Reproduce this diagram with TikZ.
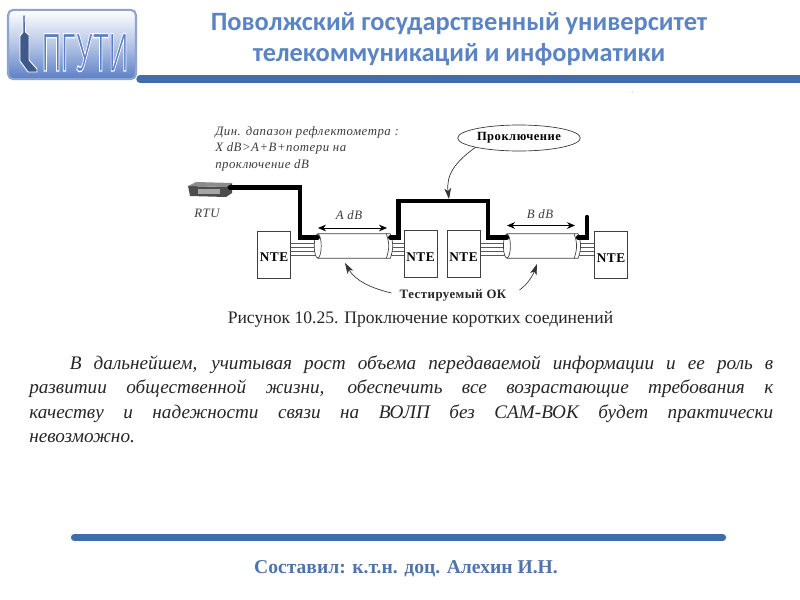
\documentclass[tikz,border=0pt]{standalone}
\usepackage{fontspec}
\usetikzlibrary{arrows.meta,calc,shapes.geometric}
\setmainfont{Liberation Serif}
\newfontfamily\titlefont{Carlito}
\newfontfamily\logofont{Liberation Sans}
\newfontfamily\schemefont[LetterSpace=4]{Liberation Serif}
\definecolor{titleblue}{HTML}{5B84C4}
\definecolor{footblue}{HTML}{4F75A8}
\definecolor{barblue}{HTML}{3F6EA9}
\definecolor{logoblue}{HTML}{5B7FC6}
\definecolor{logoedge}{HTML}{8FA3CC}
\definecolor{graytext}{HTML}{3C3C3C}
\tikzset{
  ntebox/.style={draw=black!75,line width=0.5pt,minimum width=25pt,minimum height=35.5pt,inner sep=0pt,font=\schemefont\fontsize{10}{12}\selectfont\bfseries},
  wire/.style={draw=black!65,line width=0.55pt},
  thickline/.style={draw=black,line width=3.3pt,line join=miter,line cap=round},
  cableline/.style={draw=black!75,line width=0.5pt},
  dimarrow/.style={draw=black,line width=0.55pt,{Stealth[length=6pt,width=5pt]}-{Stealth[length=6pt,width=5pt]}},
  callout/.style={draw=black!80,line width=0.5pt,-{Stealth[length=8pt,width=5pt,inset=2pt]}},
  schemetext/.style={font=\schemefont\fontsize{9.6}{12.4}\selectfont\itshape,text=graytext,inner sep=0pt},
  titletext/.style={font=\titlefont\fontsize{19.8}{24}\selectfont\bfseries,text=titleblue,inner sep=0pt},
  bar/.style={line width=4.6pt,line cap=round,draw=barblue},
}
\newcommand{\ntelabel}{\raisebox{-3pt}[5pt][0pt]{NTE}}
\begin{document}
\begin{tikzpicture}[x=0.75pt,y=-0.75pt]
\useasboundingbox (0,0) rectangle (800,600);
\fill[white] (0,0) rectangle (800,600);

% logo
\node[draw=logoedge,line width=1.6pt,rounded corners=4pt,minimum width=96pt,minimum height=52pt,inner sep=0pt,
  top color=white,bottom color=logoblue,middle color=logoblue!45] (logo) at (72,44.5) {};
\fill[logoblue!70!black,draw=white,line width=0.7pt] (23,15)--(25,15)--(25.5,32)--(29,35)--(29,60)--(37,69)--(37,72)--(28,72)--(20,61)--(20,36)--(23,32)--cycle;
\node[inner sep=0pt,text=logoblue,xscale=0.49] (logotext) at (85,52.5)
  {\logofont\fontsize{41}{41}\selectfont\special{pdf:code 2 Tr 1.0 w 1 1 1 RG}ПГУТИ\special{pdf:code 0 Tr}};

% header and footer bars
\coordinate (hbarA) at (140,79);
\coordinate (hbarB) at (805,79);
\coordinate (fbarA) at (74,537.5);
\coordinate (fbarB) at (723,537.5);
\draw[bar,line width=5.6pt] (hbarA) -- (hbarB);
\draw[bar] (fbarA) -- (fbarB);

% titles
\node[titletext] (t1) at (459,23.5) {Поволжский государственный университет};
\node[titletext] (t2) at (459,55) {телекоммуникаций и информатики};
\node[inner sep=0pt,text=footblue,font=\fontsize{14.7}{16}\selectfont\bfseries] (foot) at (406,569) {Составил: к.т.н. доц. Алехин И.Н.};
\fill[black!55] (632,92) circle (0.5);

% scheme nodes
\node[ntebox] (nte1) at (274,254.5) {\ntelabel};
\node[ntebox] (nte2) at (420.5,254) {\ntelabel};
\node[ntebox] (nte3) at (463.5,254) {\ntelabel};
\node[ntebox] (nte4) at (611,255) {\ntelabel};
\node[minimum width=54pt,minimum height=18pt,inner sep=0pt] (cabA) at (354,246) {};
\node[minimum width=53pt,minimum height=18pt,inner sep=0pt] (cabB) at (542.5,246) {};
\coordinate (w1) at (0,243);
\coordinate (w2) at (0,247);
\coordinate (w3) at (0,251);
\coordinate (w4) at (0,255.5);

% wires
\foreach \w in {w1,w2,w3,w4}{
  \draw[wire] (nte1.east |- \w) -- (cabA.west |- \w);
  \draw[wire] (cabA.east |- \w) -- (nte2.west |- \w);
  \draw[wire] (nte3.east |- \w) -- (cabB.west |- \w);
  \draw[wire] (cabB.east |- \w) -- (nte4.west |- \w);
}
% cables
\foreach \c in {cabA,cabB}{
  \draw[cableline,fill=white] (\c.north west) -- (\c.north east) to[out=-70,in=70] (\c.south east) -- (\c.south west) -- cycle;
  \draw[cableline,fill=white] (\c.west) ellipse (3.5 and 12);
  \draw[cableline] ([xshift=-3pt]\c.north east) to[out=-70,in=70] ([xshift=-3pt]\c.south east);
}

% RTU
\fill[black!70] (188,186)--(226,187)--(232,183)--(232,193)--(226,197)--(190,196)--cycle;
\fill[black!45] (188,186)--(196,182)--(232,183)--(226,187)--cycle;
\fill[black!35] (198,189) rectangle (220,194);
\coordinate (rtu) at (230,187.5);
\node[schemetext] (rtulab) at (207,213) {RTU};

% thick routes
\coordinate (r1a) at (300,187.5);
\coordinate (r1b) at (300,237.5);
\draw[thickline] (rtu) -- (r1a) -- (r1b) -- (cabA.north west |- r1b);
\coordinate (r2a) at (398.5,237.5);
\coordinate (r2b) at (398.5,201);
\coordinate (r2c) at (488,201);
\coordinate (r2d) at (488,237.5);
\draw[thickline] (cabA.north east |- r2a) -- (r2a) -- (r2b) -- (r2c) -- (r2d) -- (cabB.north west |- r2d);
\coordinate (r3a) at (587,237.5);
\coordinate (r3b) at (587,217);
\draw[thickline] (cabB.north east |- r3a) -- (r3a) -- (r3b);

% dimension arrows
\coordinate (da1) at (318,228);
\coordinate (da2) at (387,228);
\coordinate (db1) at (507,225.5);
\coordinate (db2) at (575,225.5);
\draw[dimarrow] (da1) -- (da2);
\draw[dimarrow] (db1) -- (db2);
\node[schemetext] (alab) at (349,215) {A dB};
\node[schemetext] (blab) at (540,214) {B dB};

% proklyuchenie
\node[draw=black!80,fill=white,line width=0.5pt,ellipse,minimum width=92pt,minimum height=19.5pt,inner sep=0pt,
  font=\schemefont\fontsize{9.4}{12}\selectfont\bfseries] (prok) at (519,138) {Проключение};
\coordinate (prokend) at (449,199);
\draw[callout] (prok.south west) .. controls (455,162) and (446,175) .. (prokend);

% tested cable
\node[inner sep=0pt,font=\schemefont\fontsize{9.6}{12}\selectfont\bfseries,text=black!85] (ok) at (453,295) {Тестируемый ОК};
\coordinate (okA) at (345,263);
\coordinate (okB) at (537,264);
\draw[callout] ($(ok.west)+(-8,-2)$) .. controls (370,288) and (355,280) .. (okA);
\draw[callout] ($(ok.east)+(13,-5)$) .. controls (528,284) and (533,275) .. (okB);

% dynamic range note
\node[schemetext,anchor=north west,align=left] (note) at (215,126) {Дин. дапазон рефлектометра :\\X dB>A+B+потери на\\проключение dB};

% caption and paragraph
\node[inner sep=0pt,font=\fontsize{13.2}{14}\selectfont,text=black!85] (cap) at (420.5,319) {Рисунок 10.25. Проключение коротких соединений};
\node[anchor=north west,inner sep=0pt,text width=558pt,align=justify,font=\fontsize{14.4}{18.4}\selectfont\itshape,text=black!85] (para) at (29,355)
 {\hspace*{30.5pt}В дальнейшем, учитывая рост объема передаваемой информации и ее роль в\linebreak развитии общественной жизни, обеспечить все возрастающие требования к\linebreak качеству и надежности связи на ВОЛП без CAM-ВОК будет практически\linebreak невозможно.\par};
\end{tikzpicture}
\end{document}
